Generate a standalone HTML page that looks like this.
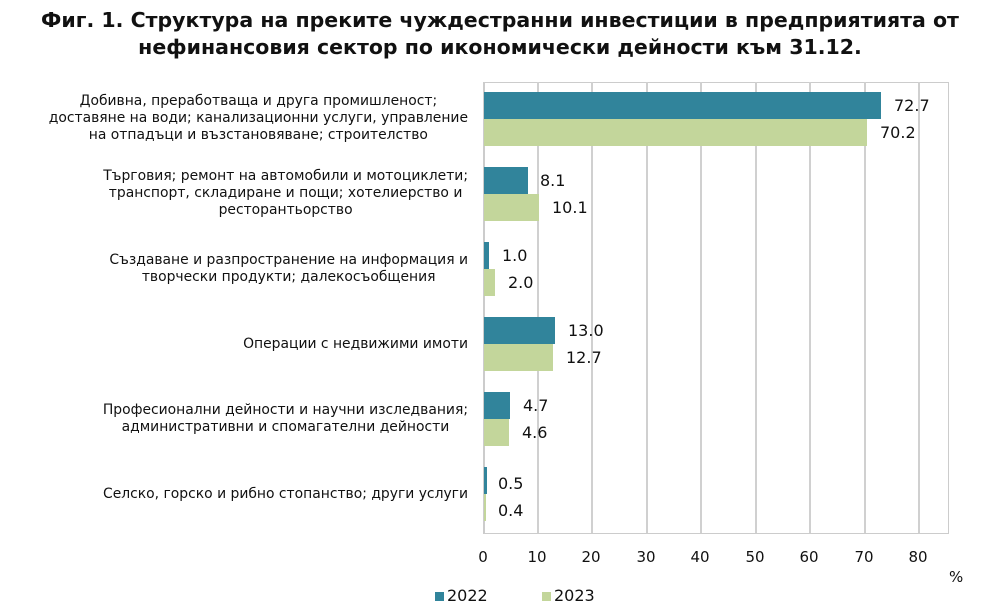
<!DOCTYPE html><html><head><meta charset="utf-8"><style>
body{margin:0;width:1000px;height:614px;background:#fff;font-family:"DejaVu Sans","Liberation Sans",sans-serif;color:#111;position:relative;overflow:hidden}
.t{position:absolute;left:0;width:1000px;text-align:center;font-weight:bold;font-size:20.5px;line-height:27px;top:7px;font-family:"DejaVu Sans",sans-serif}
.c{position:absolute;right:532px;text-align:center;font-size:13.9px;line-height:17px;white-space:nowrap}
.g{position:absolute;top:82px;height:451px;width:2px;background:#d0d0d0}
.b{position:absolute;height:27px}
.v{position:absolute;font-size:16px;line-height:27px}
.k{position:absolute;top:548px;font-size:15px;width:40px;text-align:center;margin-left:-20px}
</style></head><body>
<div class="t">Фиг. 1. Структура на преките чуждестранни инвестиции в предприятията от<br>нефинансовия сектор по икономически дейности към 31.12.</div>
<div style="position:absolute;left:483px;top:82px;width:463px;height:450px;border:1px solid #ccc;border-left:2px solid #ccc"></div>
<div class="g" style="left:537px"></div><div class="g" style="left:591px"></div><div class="g" style="left:646px"></div><div class="g" style="left:700px"></div><div class="g" style="left:755px"></div><div class="g" style="left:809px"></div><div class="g" style="left:864px"></div><div class="g" style="left:918px"></div>
<div class="c" style="top:93px">Добивна, преработваща и друга промишленост;<br>доставяне на води; канализационни услуги, управление<br>на отпадъци и възстановяване; строителство</div>
<div class="c" style="top:168px">Търговия; ремонт на автомобили и мотоциклети;<br>транспорт, складиране и пощи; хотелиерство и<br>ресторантьорство</div>
<div class="c" style="top:252px">Създаване и разпространение на информация и<br>творчески продукти; далекосъобщения</div>
<div class="c" style="top:336px">Операции с недвижими имоти</div>
<div class="c" style="top:402px">Професионални дейности и научни изследвания;<br>административни и спомагателни дейности</div>
<div class="c" style="top:486px">Селско, горско и рибно стопанство; други услуги</div>

<div class="b" style="left:484px;top:92px;width:397px;background:#31849b"></div><div class="v" style="left:894px;top:92px">72.7</div>
<div class="b" style="left:484px;top:119px;width:383px;background:#c3d69b"></div><div class="v" style="left:880px;top:119px">70.2</div>
<div class="b" style="left:484px;top:167px;width:44px;background:#31849b"></div><div class="v" style="left:540px;top:167px">8.1</div>
<div class="b" style="left:484px;top:194px;width:55px;background:#c3d69b"></div><div class="v" style="left:552px;top:194px">10.1</div>
<div class="b" style="left:484px;top:242px;width:5px;background:#31849b"></div><div class="v" style="left:502px;top:242px">1.0</div>
<div class="b" style="left:484px;top:269px;width:11px;background:#c3d69b"></div><div class="v" style="left:508px;top:269px">2.0</div>
<div class="b" style="left:484px;top:317px;width:71px;background:#31849b"></div><div class="v" style="left:568px;top:317px">13.0</div>
<div class="b" style="left:484px;top:344px;width:69px;background:#c3d69b"></div><div class="v" style="left:566px;top:344px">12.7</div>
<div class="b" style="left:484px;top:392px;width:26px;background:#31849b"></div><div class="v" style="left:523px;top:392px">4.7</div>
<div class="b" style="left:484px;top:419px;width:25px;background:#c3d69b"></div><div class="v" style="left:522px;top:419px">4.6</div>
<div class="b" style="left:484px;top:467px;width:3px;background:#31849b"></div><div class="v" style="left:498px;top:470px">0.5</div>
<div class="b" style="left:484px;top:494px;width:2px;background:#c3d69b"></div><div class="v" style="left:498px;top:497px">0.4</div>

<div class="k" style="left:483px">0</div><div class="k" style="left:537px">10</div><div class="k" style="left:591px">20</div><div class="k" style="left:646px">30</div><div class="k" style="left:700px">40</div><div class="k" style="left:755px">50</div><div class="k" style="left:809px">60</div><div class="k" style="left:864px">70</div><div class="k" style="left:918px">80</div>
<div style="position:absolute;left:949px;top:568px;font-size:15px">%</div>
<div style="position:absolute;left:435px;top:592px;width:9px;height:9px;background:#31849b"></div>
<div style="position:absolute;left:447px;top:586px;font-size:16px">2022</div>
<div style="position:absolute;left:542px;top:592px;width:9px;height:9px;background:#c3d69b"></div>
<div style="position:absolute;left:554px;top:586px;font-size:16px">2023</div>
</body></html>
